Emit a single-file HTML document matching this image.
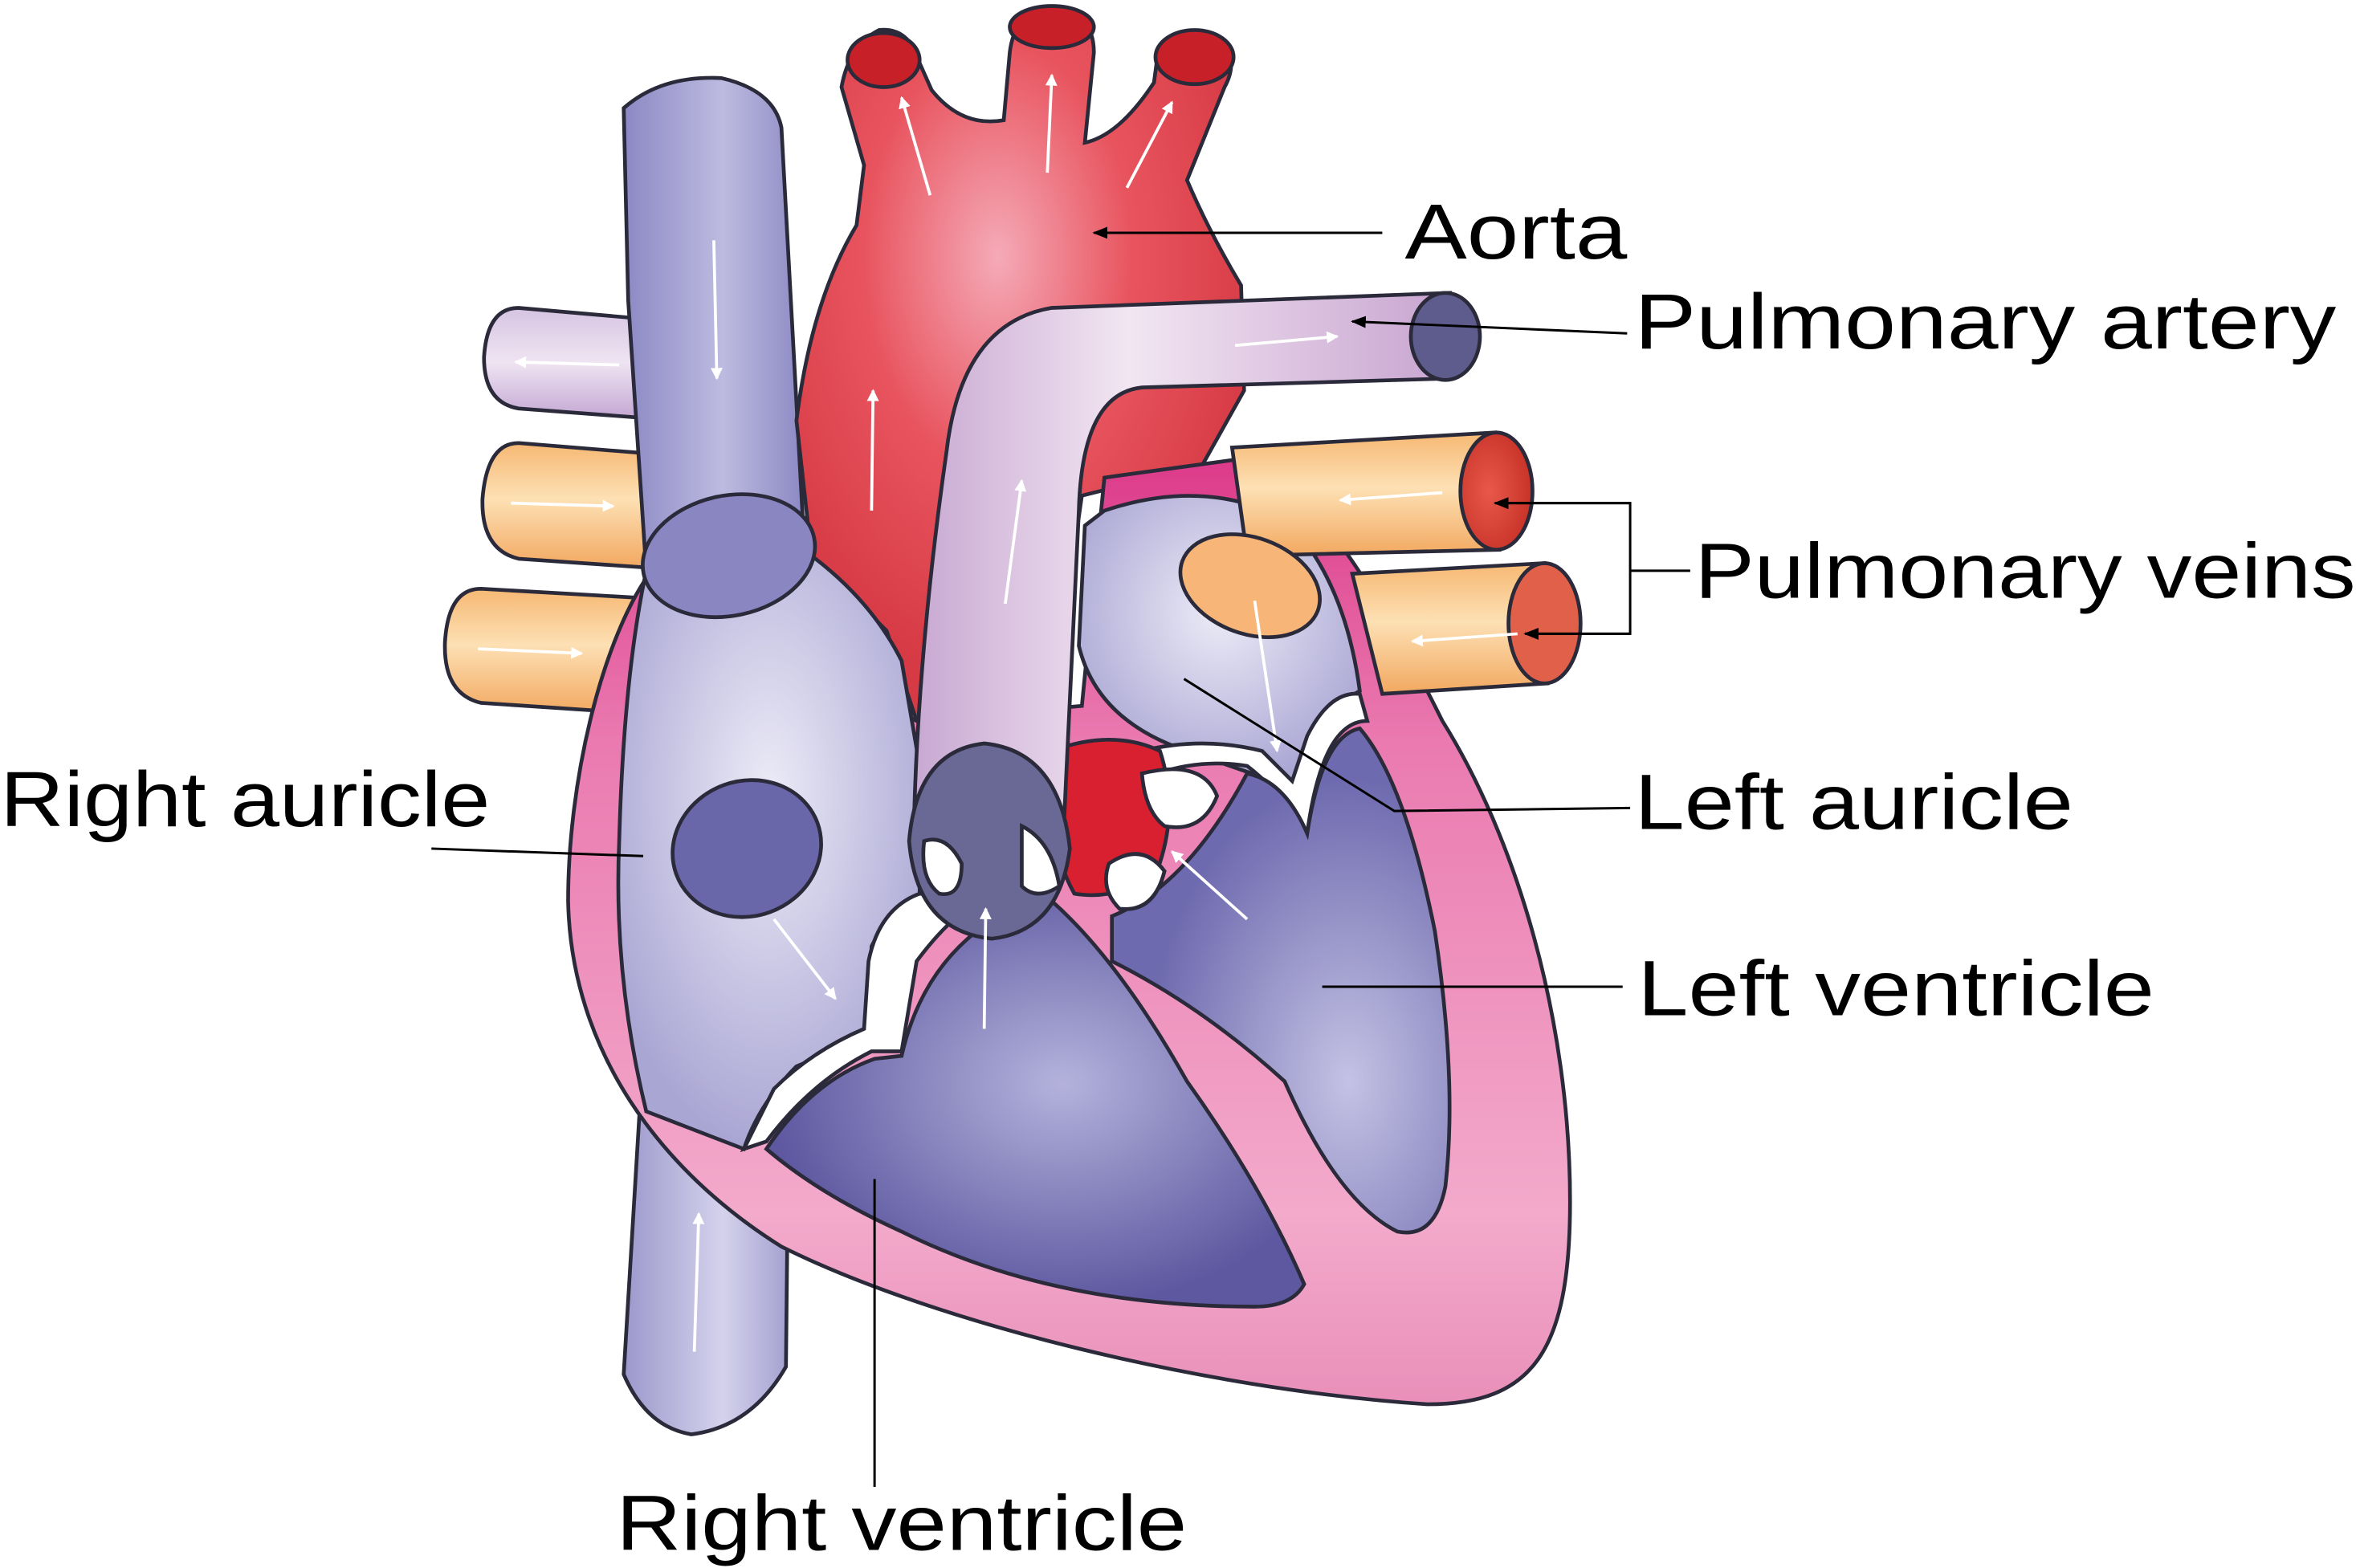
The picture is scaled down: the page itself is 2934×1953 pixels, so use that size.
<!DOCTYPE html>
<html><head><meta charset="utf-8"><style>
html,body{margin:0;padding:0;background:#fff;}
svg{display:block;}
text{font-family:"Liberation Sans",sans-serif;fill:#000;}
</style></head><body>
<svg width="2934" height="1953" viewBox="0 0 1568 1044" xmlns="http://www.w3.org/2000/svg">
<defs>
<linearGradient id="vc" x1="0" x2="1"><stop offset="0" stop-color="#8c88c4"/><stop offset="0.55" stop-color="#bdbbe0"/><stop offset="1" stop-color="#8c88c4"/></linearGradient>
<linearGradient id="ivc" x1="0" x2="1"><stop offset="0" stop-color="#9c98cc"/><stop offset="0.6" stop-color="#d4d2ec"/><stop offset="1" stop-color="#a4a0d0"/></linearGradient>
<linearGradient id="or" x1="0" y1="0" x2="0" y2="1"><stop offset="0" stop-color="#f6b873"/><stop offset="0.45" stop-color="#fde0b4"/><stop offset="1" stop-color="#f2a860"/></linearGradient>
<linearGradient id="lv" x1="0" y1="0" x2="0" y2="1"><stop offset="0" stop-color="#d6c4e2"/><stop offset="0.5" stop-color="#efe4f2"/><stop offset="1" stop-color="#c4a8d4"/></linearGradient>
<radialGradient id="ao" cx="0.45" cy="0.35" r="0.6"><stop offset="0" stop-color="#f5aab8"/><stop offset="0.5" stop-color="#e8545e"/><stop offset="1" stop-color="#d63a44"/></radialGradient>
<linearGradient id="pa" x1="0" x2="1"><stop offset="0" stop-color="#c8a8d2"/><stop offset="0.4" stop-color="#f2e6f2"/><stop offset="1" stop-color="#c8a4d0"/></linearGradient>
<linearGradient id="pk" x1="0" y1="0" x2="0" y2="1"><stop offset="0" stop-color="#dc3a8a"/><stop offset="0.3" stop-color="#ea7ab0"/><stop offset="0.8" stop-color="#f3aacb"/><stop offset="1" stop-color="#e98fb9"/></linearGradient>
<radialGradient id="ra" cx="0.5" cy="0.4" r="0.6"><stop offset="0" stop-color="#ecebf6"/><stop offset="1" stop-color="#aaa6d4"/></radialGradient>
<radialGradient id="rv" cx="0.55" cy="0.45" r="0.55"><stop offset="0" stop-color="#b4b2dc"/><stop offset="1" stop-color="#5d58a0"/></radialGradient>
<radialGradient id="lvn" cx="0.7" cy="0.7" r="0.6"><stop offset="0" stop-color="#c4c2e4"/><stop offset="1" stop-color="#6e6aaf"/></radialGradient>
<radialGradient id="cap" cx="0.4" cy="0.5" r="0.6"><stop offset="0" stop-color="#e8584a"/><stop offset="1" stop-color="#c83228"/></radialGradient>
<marker id="wa" markerWidth="8" markerHeight="8" refX="7" refY="4" orient="auto" markerUnits="userSpaceOnUse"><path d="M0,0 L8,4 L0,8 Z" fill="#fff"/></marker>
<marker id="ba" markerWidth="10" markerHeight="8" refX="9" refY="4" orient="auto" markerUnits="userSpaceOnUse"><path d="M0,0 L10,4 L0,8 Z" fill="#000"/></marker>
</defs>
<g stroke="#2a2a3a" stroke-width="2.5">
<!-- lavender branch left -->
<path d="M345,205 L425,212 L425,278 L345,272 Q322,268 322,238 Q324,205 345,205Z" fill="url(#lv)"/>
<!-- orange veins left -->
<path d="M345,295 L432,302 L432,378 L345,372 Q320,366 321,332 Q324,295 345,295Z" fill="url(#or)"/>
<path d="M320,392 L425,398 L425,475 L320,468 Q295,462 296,428 Q298,392 320,392Z" fill="url(#or)"/>
<!-- inferior vena cava -->
<path d="M428,700 L525,720 L523,910 Q500,950 460,955 Q430,950 415,915 Z" fill="url(#ivc)"/>
<!-- superior vena cava -->
<path d="M415,72 Q440,50 480,52 Q515,60 520,85 L535,360 L430,380 L418,200 Z" fill="url(#vc)"/>
<!-- aorta -->
<path d="M560,58 Q565,30 585,20 Q605,18 612,42 L620,60 Q640,85 668,80 L672,35 Q675,8 700,5 Q728,8 728,35 L722,95 Q745,90 768,55 L770,40 Q790,15 812,25 Q825,40 815,58 L790,120 Q805,155 826,190 L828,260 L800,310 L720,330 L700,470 L610,480 L590,420 L540,370 L530,280 Q540,200 570,150 L575,110 Z" fill="url(#ao)"/>
<ellipse cx="588" cy="40" rx="24" ry="18" fill="#c82028"/>
<ellipse cx="700" cy="18" rx="28" ry="14" fill="#c82028"/>
<ellipse cx="795" cy="38" rx="26" ry="18" fill="#c82028"/>
<!-- pink heart body -->
<path d="M430,385 C400,430 378,520 378,600 C380,700 440,780 520,830 C620,880 800,925 950,935 C1020,935 1045,900 1045,800 C1045,680 1010,560 960,480 C920,400 880,330 830,305 L735,318 L720,470 L610,480 Z" fill="url(#pk)"/>
<!-- right atrium -->
<path d="M430,380 L540,370 Q580,400 600,440 L612,510 L612,595 Q590,610 580,630 L578,690 L530,710 Q505,735 495,765 L430,740 Q408,650 412,560 Q415,450 430,380Z" fill="url(#ra)"/>
<!-- left atrium -->
<path d="M735,340 Q800,318 855,345 Q895,385 905,460 L880,475 L862,525 L790,500 Q730,480 718,430 L722,350Z" fill="url(#ra)"/>
<!-- white valve areas -->
<path d="M495,765 L510,760 Q540,720 580,700 L600,700 L610,640 Q640,600 660,600 L612,595 Q585,605 578,640 L575,685 Q540,700 515,725 Z" fill="#fff"/>
<path d="M760,500 Q800,490 840,500 L860,520 L870,490 Q885,460 905,462 L910,480 Q880,480 870,555 Q850,525 830,510 Q800,505 770,515 Z" fill="#fff"/>
<!-- left ventricle -->
<path d="M740,610 Q790,590 830,515 Q855,520 870,555 Q880,490 905,485 Q935,520 955,620 Q970,720 962,790 Q955,825 930,820 Q890,800 855,720 Q800,670 740,640 Z" fill="url(#lvn)"/>
<!-- right ventricle -->
<path d="M510,765 Q540,720 582,705 L600,703 Q612,650 650,620 L700,600 Q745,640 790,720 Q840,790 868,855 Q860,870 835,870 Q700,870 600,820 Q545,795 510,765Z" fill="url(#rv)"/>
<!-- coronary red -->
<path d="M700,500 Q740,485 772,500 Q785,540 770,580 Q745,600 715,595 Q695,560 700,500Z" fill="#d82030"/>
<path d="M760,515 Q800,505 810,530 Q800,555 775,550 Q762,540 760,515Z" fill="#fff"/>
<path d="M738,575 Q760,560 775,580 Q768,608 745,605 Q732,592 738,575Z" fill="#fff"/>
<!-- pulmonary artery -->
<path d="M608,560 Q610,440 630,300 Q640,215 700,205 L965,195 L965,252 L760,258 Q720,262 718,340 L708,550 Z" fill="url(#pa)"/>
<ellipse cx="962" cy="224" rx="23" ry="29" fill="#5e5c8c"/>
<!-- pulmonary valve -->
<path d="M605,560 Q610,500 655,495 Q705,500 712,565 Q705,620 660,625 Q610,620 605,560Z" fill="#6a6894"/>
<path d="M615,560 Q630,555 640,575 Q640,598 625,595 Q612,585 615,560Z" fill="#fff"/>
<path d="M680,550 Q700,560 705,590 Q690,600 680,590 Z" fill="#fff"/>
<!-- orange veins right -->
<path d="M820,298 L995,288 L998,366 L830,370 Z" fill="url(#or)"/>
<ellipse cx="996" cy="327" rx="24" ry="39" fill="url(#cap)"/>
<path d="M900,382 L1028,375 L1030,455 L920,462 Z" fill="url(#or)"/>
<ellipse cx="1028" cy="415" rx="24" ry="40" fill="#e0604a"/>
<!-- vena cava ring -->
<ellipse cx="485" cy="370" rx="58" ry="40" transform="rotate(-12 485 370)" fill="#8a86c2"/>
<!-- septal holes -->
<ellipse cx="497" cy="565" rx="50" ry="45" transform="rotate(-20 497 565)" fill="#6a66aa"/>
<ellipse cx="832" cy="390" rx="48" ry="32" transform="rotate(20 832 390)" fill="#f7b678"/>
</g>
<!-- white arrows -->
<g stroke="#fff" stroke-width="2" fill="none" marker-end="url(#wa)">
<line x1="619" y1="130" x2="600" y2="65"/>
<line x1="697" y1="115" x2="700" y2="50"/>
<line x1="750" y1="125" x2="780" y2="68"/>
<line x1="475" y1="160" x2="477" y2="252"/>
<line x1="412" y1="243" x2="343" y2="241"/>
<line x1="340" y1="335" x2="408" y2="337"/>
<line x1="318" y1="432" x2="387" y2="435"/>
<line x1="580" y1="340" x2="581" y2="260"/>
<line x1="822" y1="230" x2="890" y2="224"/>
<line x1="669" y1="402" x2="680" y2="320"/>
<line x1="960" y1="328" x2="892" y2="333"/>
<line x1="1010" y1="422" x2="940" y2="427"/>
<line x1="835" y1="400" x2="850" y2="500"/>
<line x1="830" y1="612" x2="780" y2="567"/>
<line x1="515" y1="612" x2="556" y2="665"/>
<line x1="655" y1="685" x2="656" y2="605"/>
<line x1="462" y1="900" x2="465" y2="808"/>
</g>
<!-- leader lines -->
<g stroke="#000" stroke-width="1.6" fill="none">
<line x1="920" y1="155" x2="728" y2="155" marker-end="url(#ba)"/>
<line x1="1083" y1="222" x2="900" y2="214" marker-end="url(#ba)"/>
<polyline points="995,335 1085,335 1085,422 1015,422"/>
<line x1="1085" y1="380" x2="1125" y2="380"/>
<line x1="1085" y1="335" x2="995" y2="335" marker-end="url(#ba)"/>
<line x1="1085" y1="422" x2="1015" y2="422" marker-end="url(#ba)"/>
<line x1="287" y1="565" x2="428" y2="570"/>
<polyline points="1085,538 928,540 788,452"/>
<line x1="1080" y1="657" x2="880" y2="657"/>
<line x1="582" y1="785" x2="582" y2="990"/>
</g>
<g font-size="52">
<text x="935" y="172" textLength="148" lengthAdjust="spacingAndGlyphs">Aorta</text>
<text x="1088" y="232" textLength="467" lengthAdjust="spacingAndGlyphs">Pulmonary artery</text>
<text x="1128" y="398" textLength="440" lengthAdjust="spacingAndGlyphs">Pulmonary veins</text>
<text x="0" y="550" textLength="326" lengthAdjust="spacingAndGlyphs">Right auricle</text>
<text x="1088" y="552" textLength="292" lengthAdjust="spacingAndGlyphs">Left auricle</text>
<text x="1090" y="676" textLength="344" lengthAdjust="spacingAndGlyphs">Left ventricle</text>
<text x="410" y="1032" textLength="380" lengthAdjust="spacingAndGlyphs">Right ventricle</text>
</g>
</svg>
</body></html>
